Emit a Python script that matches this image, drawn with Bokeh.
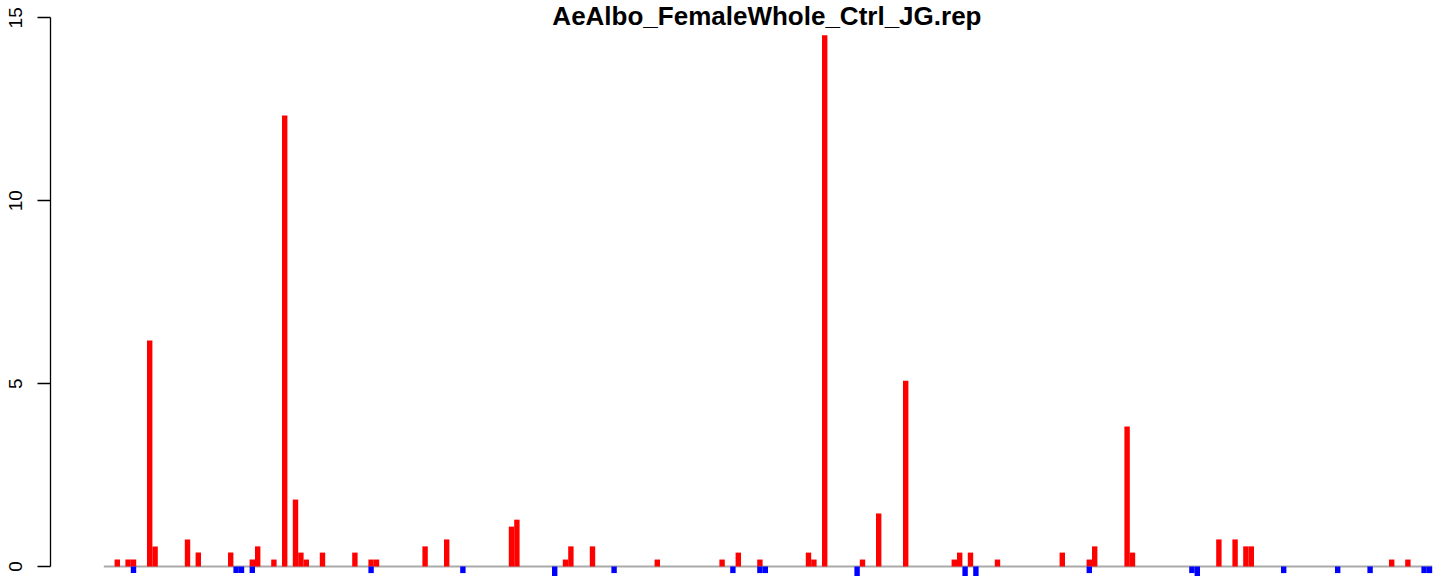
from bokeh.plotting import figure
from bokeh.models import FixedTicker, Label, Range1d
from bokeh.embed import file_html
from bokeh.resources import INLINE

title_text = "AeAlbo_FemaleWhole_Ctrl_JG.rep"

# slot index (bin) and value of each positive (red) bar
red_slots = [2, 4, 5, 8, 9, 15, 17, 23, 27, 28, 31, 33, 35, 36, 37, 40, 46, 49, 50,
             59, 63, 75, 76, 85, 86, 90, 102, 114, 117, 121, 130, 131, 133, 140,
             143, 148, 157, 158, 160, 165, 177, 182, 183, 189, 190, 206, 209, 211,
             212, 238, 241]
red_vals = [0.19, 0.19, 0.19, 6.18, 0.55, 0.74, 0.38, 0.38, 0.19, 0.55, 0.19, 12.33,
            1.83, 0.38, 0.19, 0.38, 0.38, 0.19, 0.19, 0.55, 0.74, 1.09, 1.28, 0.19,
            0.55, 0.55, 0.19, 0.19, 0.38, 0.19, 0.38, 0.19, 14.52, 0.19, 1.45, 5.08,
            0.19, 0.38, 0.38, 0.19, 0.38, 0.19, 0.55, 3.83, 0.38, 0.74, 0.74, 0.55,
            0.55, 0.19, 0.19]

# slot index and value of each negative (blue) bar
blue_slots = [5, 24, 25, 27, 49, 66, 83, 94, 116, 121, 122, 139, 159, 161, 182, 201,
              202, 218, 228, 234, 244, 245]
blue_vals = [-0.18, -0.18, -0.18, -0.18, -0.18, -0.18, -0.27, -0.18, -0.18, -0.18,
             -0.18, -0.27, -0.27, -0.27, -0.18, -0.18, -0.27, -0.18, -0.18, -0.18,
             -0.18, -0.18]

n_slots = 246
y_ticks = [0, 5, 10, 15]

p = figure(width=1444, height=576, output_backend="svg", toolbar_location=None,
           x_range=Range1d(-9.87, 248.28), y_range=Range1d(-0.2734, 15.473),
           x_axis_location=None, min_border_left=50, min_border_right=0,
           min_border_top=0, min_border_bottom=0)
p.xgrid.visible = False
p.ygrid.visible = False
p.outline_line_color = None
p.background_fill_color = "white"

# zero line
p.segment(x0=[0], y0=[0], x1=[n_slots], y1=[0], line_color="#aaaaaa", line_width=2)

p.quad(left=red_slots, right=[s + 1 for s in red_slots], bottom=0, top=red_vals,
       fill_color="#FF0000", line_color=None)
p.quad(left=blue_slots, right=[s + 1 for s in blue_slots], bottom=0, top=blue_vals,
       fill_color="#0000FF", line_color=None)

ax = p.yaxis[0]
ax.ticker = FixedTicker(ticks=y_ticks)
ax.bounds = (0, 15)
ax.major_label_orientation = "parallel"
ax.major_tick_out = 13
ax.major_tick_in = 0
ax.minor_tick_out = 0
ax.minor_tick_in = 0
ax.axis_line_width = 1.3
ax.major_tick_line_width = 1.3
ax.axis_line_color = "black"
ax.major_tick_line_color = "black"
ax.major_label_text_font = "Liberation Sans"
ax.major_label_text_font_size = "19px"
ax.major_label_text_color = "black"
ax.major_label_standoff = 15

p.add_layout(Label(x=122.8, y=15.473, text=title_text, text_align="center",
                   text_baseline="top", text_font="Liberation Sans",
                   text_font_style="bold", text_font_size="26px", text_color="black"))

open("out.html", "w").write(file_html(p, INLINE))
